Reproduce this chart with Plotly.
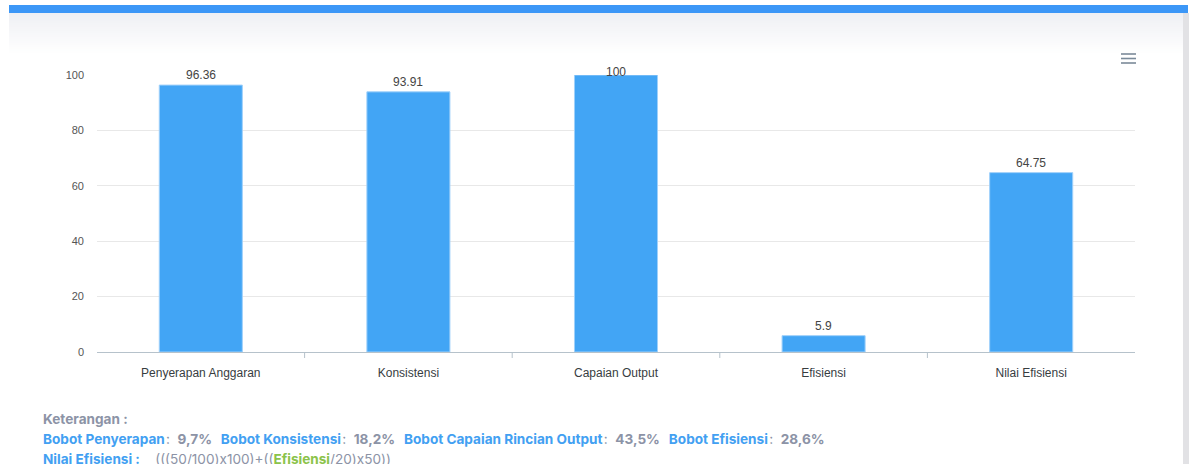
import plotly.graph_objects as go

categories = ["Penyerapan Anggaran", "Konsistensi", "Capaian Output", "Efisiensi", "Nilai Efisiensi"]
values = [96.36, 93.91, 100, 5.9, 64.75]
y_ticks = [0, 20, 40, 60, 80, 100]

weights_labels = ["Bobot Penyerapan", "Bobot Konsistensi", "Bobot Capaian Rincian Output", "Bobot Efisiensi"]
weights_values = ["9,7%", "18,2%", "43,5%", "28,6%"]

W_PX, H_PX = 1195, 464
L, R, T, B = 97, 60, 75, 112
PW = W_PX - L - R
PH = H_PX - T - B


def px(x):
    return (x - L) / PW


def py(y):
    return (H_PX - B - y) / PH


BAR = "#42a5f5"
BLUE_T = "#42a0f2"
GRAY_T = "#8c93a6"
NOTE_FONT = dict(family="Inter, Open Sans", size=13.6, color=GRAY_T)

fig = go.Figure()
fig.add_trace(go.Bar(
    x=categories, y=values, width=0.4,
    marker=dict(color=BAR, line=dict(color="#9fd0fa", width=1)),
    hoverinfo="x+y", cliponaxis=False,
))

shapes = []
# page decorations
shapes.append(dict(type="rect", xref="paper", yref="paper", x0=px(9), x1=px(1188),
                   y0=py(5), y1=py(13), fillcolor="#3c97f7", line_width=0, layer="below"))
# gradient header strip
n = 21
c0 = (239, 240, 244)
for i in range(n):
    t = i / (n - 1)
    c = tuple(int(round(c0[k] + (255 - c0[k]) * t)) for k in range(3))
    y0 = 13 + i * 2
    shapes.append(dict(type="rect", xref="paper", yref="paper", x0=px(9), x1=px(1183),
                       y0=py(y0), y1=py(y0 + 2), fillcolor="rgb(%d,%d,%d)" % c,
                       line_width=0, layer="below"))
shapes.append(dict(type="rect", xref="paper", yref="paper", x0=px(1183), x1=px(1189),
                   y0=py(13), y1=py(464), fillcolor="#e2e2e5", line_width=0, layer="below"))
# hamburger
for yy in (54, 58.5, 63):
    shapes.append(dict(type="line", xref="paper", yref="paper", x0=px(1121), x1=px(1136),
                       y0=py(yy), y1=py(yy), line=dict(color="#7a8a99", width=1.6)))
# interior category ticks
for i in range(len(categories) - 1):
    shapes.append(dict(type="line", xref="x", yref="paper", x0=i + 0.5, x1=i + 0.5,
                       y0=0, y1=py(358), line=dict(color="#b6c2cb", width=1)))

annotations = []
for c, v in zip(categories, values):
    annotations.append(dict(x=c, y=v, xref="x", yref="y", text=str(v), showarrow=False,
                            yanchor="middle", yshift=3 if v >= 99 else 10,
                            font=dict(family="Liberation Sans, Arial", size=12, color="#444444")))

sep = "&nbsp;&nbsp;"
parts = []
for lab, val in zip(weights_labels, weights_values):
    parts.append('<b><span style="color:%s">%s</span></b><span style="color:%s">&#8202;:%s<b>%s</b></span>'
                 % (BLUE_T, lab, GRAY_T, sep, val))
line2 = (sep + "&#8202;").join(parts)
annotations.append(dict(xref="paper", yref="paper", x=px(42), y=py(419), xanchor="left",
                        yanchor="middle", showarrow=False, align="left", borderpad=0,
                        text="<b>Keterangan :</b>", font=NOTE_FONT))
annotations.append(dict(xref="paper", yref="paper", x=px(42), y=py(439), xanchor="left",
                        yanchor="middle", showarrow=False, align="left", borderpad=0,
                        text=line2, font=NOTE_FONT))
line3 = ('<b><span style="color:%s">Nilai Efisiensi :</span></b>&nbsp;&nbsp;&nbsp;&nbsp;'
         '<span style="color:%s">(((50/100)x100)+((</span><b><span style="color:#8bc34a">Efisiensi</span></b>'
         '<span style="color:%s">/20)x50))</span>') % (BLUE_T, GRAY_T, GRAY_T)
annotations.append(dict(xref="paper", yref="paper", x=px(42), y=py(459), xanchor="left",
                        yanchor="middle", showarrow=False, align="left", borderpad=0,
                        text=line3, font=NOTE_FONT))

fig.update_layout(
    width=W_PX, height=H_PX,
    margin=dict(l=L, r=R, t=T, b=B),
    paper_bgcolor="white", plot_bgcolor="rgba(0,0,0,0)",
    showlegend=False, bargap=0.6,
    shapes=shapes, annotations=annotations,
    xaxis=dict(type="category", showgrid=False, showline=True, linecolor="#b6c2cb", linewidth=1,
               ticks="", tickfont=dict(family="Liberation Sans, Arial", size=12, color="#373d3f"),
               ticklabelstandoff=10, fixedrange=True),
    yaxis=dict(range=[0, 100], tickvals=y_ticks, showgrid=True, gridcolor="#e8e8e8",
               zeroline=False, showline=False, ticks="",
               tickfont=dict(family="Liberation Sans, Arial", size=11, color="#555555"),
               ticklabelstandoff=12, fixedrange=True),
)

fig.write_html("out.html", config={"displayModeBar": False})
